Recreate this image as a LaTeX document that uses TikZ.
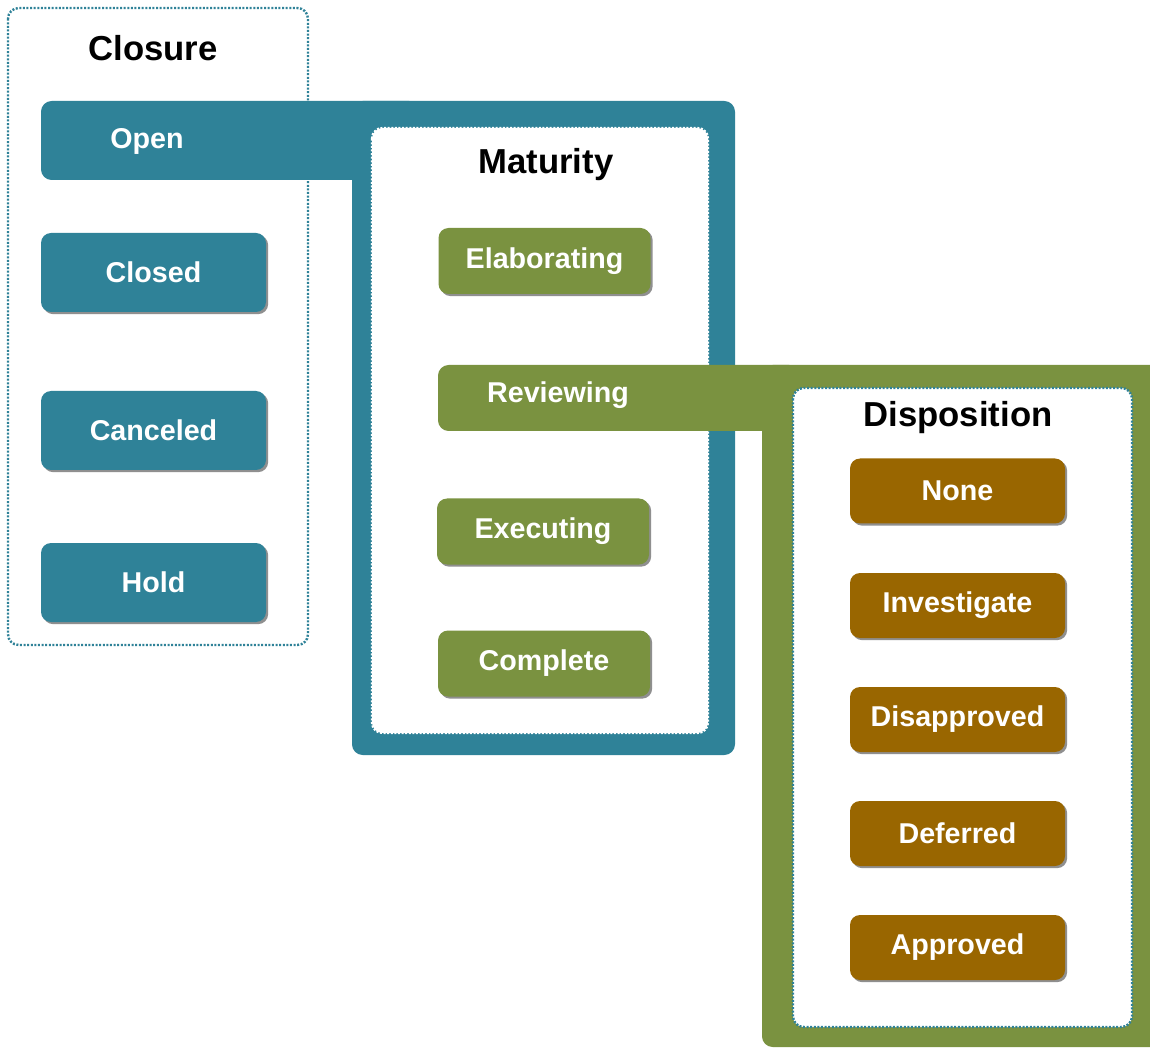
\documentclass[tikz,border=0pt]{standalone}
\usepackage{fontspec}
\setmainfont{Liberation Sans}
\usetikzlibrary{shadows}

\definecolor{closureblue}{RGB}{47,130,152}
\definecolor{maturitygreen}{RGB}{122,146,64}
\definecolor{dispobrown}{RGB}{153,102,0}

\begin{document}
\begin{tikzpicture}[x=0.75pt,y=-0.75pt,
  panel/.style={fill=white,line width=1.8pt,dash pattern=on 1.5pt off 1.2pt,rounded corners=8pt},
  title/.style={font=\fontsize{26}{30}\selectfont\bfseries},
  chiplabel/.style={text=white,font=\fontsize{21.5}{25}\selectfont\bfseries},
  chip/.style={chiplabel,rounded corners=7.5pt,inner sep=0pt,
    drop shadow={shadow xshift=1.6pt,shadow yshift=-1.6pt,opacity=.55,fill=black!80}},
  closurechip/.style={chip,fill=closureblue,minimum width=168.75pt,minimum height=59.25pt},
  maturitychip/.style={chip,fill=maturitygreen,minimum width=159pt,minimum height=49.5pt},
  dispochip/.style={chip,fill=dispobrown,minimum width=161.25pt,minimum height=48.75pt}]
% Page is the same size as the reference, in pixels
\useasboundingbox (0,0) rectangle (1150,1048);
\clip (0,0) rectangle (1150,1048);
% Closure panel
\draw [panel,draw=closureblue] (8,8) rectangle (308,645);
\node [title] (closure) at (153,48) {Closure};
% Open bar runs into the Maturity frame
\fill [closureblue,rounded corners=8pt] (41,101) rectangle (420,180);
\fill [closureblue,rounded corners=8pt] (352,101) rectangle (735,755);
\node [chiplabel] (openlbl) at (147,141) {Open};
% Closure states
\node [closurechip] (closed) at (153.5,272.5) {Closed};
\node [closurechip] (canceled) at (153.5,430.5) {Canceled};
\node [closurechip] (hold) at (153.5,582.5) {Hold};
% Maturity panel inside the frame
\draw [panel,draw=white] (372,128) rectangle (708,733);
\node [title] (maturity) at (546,165) {Maturity};
% Maturity states
\node [maturitychip] (elab) at (544.5,261) {Elaborating};
\node [maturitychip] (exec) at (543,531.5) {Executing};
\node [maturitychip] (complete) at (544,663.5) {Complete};
% Reviewing bar runs into the Disposition frame
\fill [maturitygreen,rounded corners=8pt] (438,365) rectangle (800,431);
\fill [maturitygreen,rounded corners=8pt] (762,365) rectangle (1175,1047);
\node [chiplabel] (reviewlbl) at (558,395) {Reviewing};
% Disposition panel
\draw [panel,draw=closureblue] (793,388) rectangle (1132,1027);
\node [title] (disposition) at (958,418) {Disposition};
% Disposition states
\node [dispochip] (none) at (957.5,491) {None};
\node [dispochip] (investigate) at (957.5,605.5) {Investigate};
\node [dispochip] (disapproved) at (957.5,719.5) {Disapproved};
\node [dispochip] (deferred) at (957.5,833.5) {Deferred};
\node [dispochip] (approved) at (957.5,947.5) {Approved};
\end{tikzpicture}
\end{document}
